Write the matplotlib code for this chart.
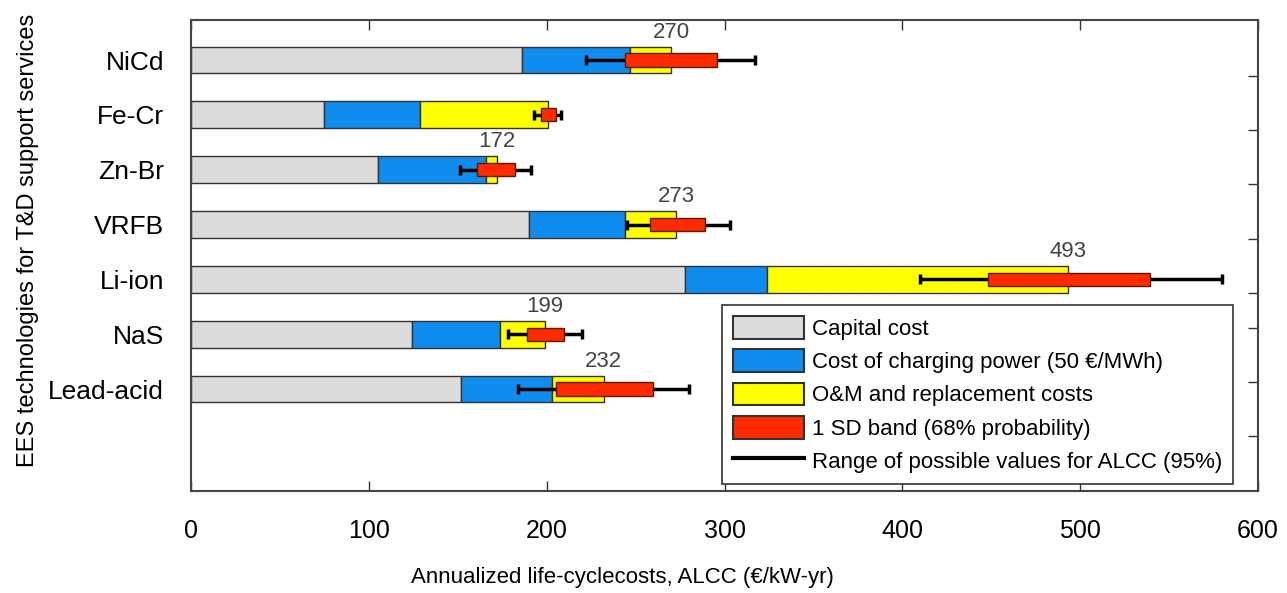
import matplotlib
matplotlib.use("Agg")
import matplotlib.pyplot as plt
from matplotlib.patches import Patch
from matplotlib.lines import Line2D
import numpy as np

plt.rcParams['font.family'] = ['Liberation Sans', 'DejaVu Sans']

categories = ['NiCd', 'Fe-Cr', 'Zn-Br', 'VRFB', 'Li-ion', 'NaS', 'Lead-acid']
capital = [186, 75, 105, 190, 278, 124, 152]
charging = [61, 54, 61, 54, 46, 50, 51]
om_replacement = [23, 72, 6, 29, 169, 25, 29]
sd_low = [244, 197, 161, 258, 448, 189, 205]
sd_high = [296, 205, 182, 289, 539, 210, 260]
range_low = [222, 193, 151, 245, 410, 178, 184]
range_high = [317, 208, 191, 303, 580, 220, 280]
total_labels = ['270', '', '172', '273', '493', '199', '232']
xticks = [0, 100, 200, 300, 400, 500, 600]

c_gray = '#dcdcdc'
c_blue = '#0f8cee'
c_yellow = '#ffff00'
c_red = '#ff2a00'

fig = plt.figure(figsize=(12.87, 5.93), dpi=100)
ax = fig.add_axes([191/1287, 1-491/593, (1258-191)/1287, (491-20)/593])

y = np.arange(len(categories))
h = 0.49
cap = np.array(capital)
chg = np.array(charging)
om = np.array(om_replacement)
total = cap + chg + om

ax.barh(y, cap, height=h, color=c_gray, edgecolor='#333333', linewidth=1.0, zorder=2)
ax.barh(y, chg, left=cap, height=h, color=c_blue, edgecolor='#333333', linewidth=1.0, zorder=2)
ax.barh(y, om, left=cap+chg, height=h, color=c_yellow, edgecolor='#333333', linewidth=1.0, zorder=2)

lo = np.array(range_low)
hi = np.array(range_high)
mid = (lo + hi) / 2
ax.errorbar(mid, y, xerr=[mid - lo, hi - mid], fmt='none', ecolor='black',
            elinewidth=2.5, capsize=3.8, capthick=2.5, zorder=3)
sl = np.array(sd_low)
sh = np.array(sd_high)
ax.barh(y, sh - sl, left=sl, height=0.24, color=c_red, edgecolor='#5a1a00', linewidth=1.0, zorder=4)

for yi, t, lab in zip(y, total, total_labels):
    if lab:
        ax.text(t, yi - 0.51, lab, ha='center', va='center', fontsize=16, color='#444444')

ax.set_xlim(0, 600)
ax.set_ylim(7.86, -0.73)
ax.set_xticks(xticks)
ax.set_xticklabels([str(v) for v in xticks])
ax.set_yticks(y)
ax.set_yticklabels(categories)
ax.tick_params(axis='x', direction='in', length=7, width=1, pad=20, labelsize=18, top=True, colors='#333333')
ax.tick_params(axis='x', labelcolor='black')
ax.tick_params(axis='y', left=False, pad=16, labelsize=19)
ax.tick_params(axis='y', which='minor', direction='in', length=7, width=1, right=True, left=False, colors='#333333')
ax.set_yticks([0.29, 1.28, 2.26, 3.27, 4.25, 4.89, 5.88, 6.86], minor=True)
for s in ax.spines.values():
    s.set_color('#444444')
    s.set_linewidth(1.5)

fig.text(622/1287, 1-578/593, 'Annualized life-cyclecosts, ALCC (€/kW-yr)', ha='center', va='center', fontsize=16)
fig.text(28/1287, 1-240/593, 'EES technologies for T&D support services', ha='center', va='center',
         rotation=90, fontsize=17)

handles = [Patch(facecolor=c_gray, edgecolor='#333333', linewidth=1.5),
           Patch(facecolor=c_blue, edgecolor='#333333', linewidth=1.5),
           Patch(facecolor=c_yellow, edgecolor='#333333', linewidth=1.5),
           Patch(facecolor=c_red, edgecolor='#333333', linewidth=1.5),
           Line2D([0], [0], color='black', linewidth=3)]
labels = ['Capital cost', 'Cost of charging power (50 €/MWh)', 'O&M and replacement costs',
          '1 SD band (68% probability)', 'Range of possible values for ALCC (95%)']
leg = fig.legend(handles, labels, loc='upper left', bbox_to_anchor=(722/1287, 1-305/593),
                 fontsize=16, handlelength=3.2, handleheight=1.2, labelspacing=0.42,
                 handletextpad=0.35, borderpad=0.5, borderaxespad=0, fancybox=False,
                 framealpha=1, edgecolor='#333333')
leg.get_frame().set_linewidth(1.2)

fig.savefig('out.png', dpi=100)
